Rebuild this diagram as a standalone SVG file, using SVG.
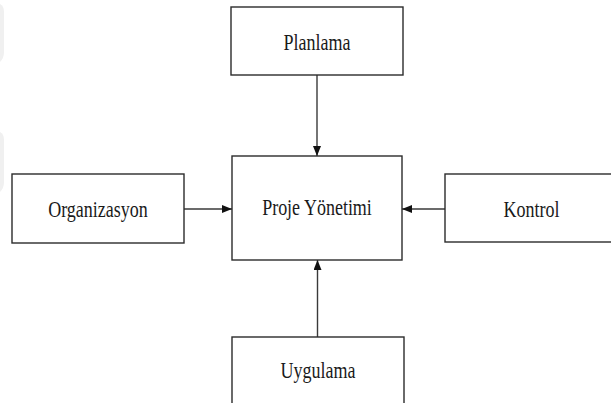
<svg xmlns="http://www.w3.org/2000/svg" width="611" height="403" viewBox="0 0 611 403">
  <style>
    .box { fill: #ffffff; stroke: #2b2b2b; stroke-width: 1.4; }
    .lbl { font-size: 18px; fill: #1a1a1a; text-anchor: middle; }
    .link { stroke: #3a3a3a; stroke-width: 1.4; fill: none; marker-end: url(#tip); }
    .ghost { fill: #f0f0f0; }
  </style>
  <defs>
    <marker id="tip" viewBox="0 0 10 8" refX="10" refY="4" markerWidth="10" markerHeight="8" markerUnits="userSpaceOnUse" orient="auto">
      <path d="M0,0 L10,4 L0,8 Z" fill="#111111"/>
    </marker>
  </defs>

  <rect width="611" height="403" fill="#ffffff"/>

  <!-- faint background marks at the left margin -->
  <path class="ghost" d="M0,4 Q4,6 4,12 L4,52 Q4,58 0,62 Z"/>
  <path class="ghost" d="M0,132 Q4,134 4,140 L4,182 Q4,188 0,192 Z"/>

  <g id="connectors">
    <line class="link" x1="317" y1="75" x2="317" y2="156"/>
    <line class="link" x1="184" y1="209" x2="232" y2="209"/>
    <line class="link" x1="445" y1="209" x2="402" y2="209"/>
    <line class="link" x1="317.5" y1="337" x2="317.5" y2="260"/>
  </g>

  <g font-family="'Liberation Serif', 'Times New Roman', serif">
    <g id="planlama">
      <rect class="box" x="231" y="7" width="172" height="68"/>
      <text class="lbl" font-family="Liberation Serif, serif" transform="translate(317,50) scale(1,1.28)">Planlama</text>
    </g>

    <g id="proje-yonetimi">
      <rect class="box" x="232" y="156" width="170" height="104"/>
      <text class="lbl" font-family="Liberation Serif, serif" transform="translate(317,215) scale(1,1.28)">Proje Yönetimi</text>
    </g>

    <g id="organizasyon">
      <rect class="box" x="12" y="174" width="172" height="69"/>
      <text class="lbl" font-family="Liberation Serif, serif" transform="translate(98,217) scale(1,1.28)">Organizasyon</text>
    </g>

    <g id="kontrol">
      <rect class="box" x="445" y="174" width="175" height="68"/>
      <text class="lbl" font-family="Liberation Serif, serif" transform="translate(531.5,217) scale(1,1.28)">Kontrol</text>
    </g>

    <g id="uygulama">
      <rect class="box" x="232" y="337" width="172" height="80"/>
      <text class="lbl" font-family="Liberation Serif, serif" transform="translate(318,378) scale(1,1.28)">Uygulama</text>
    </g>
  </g>
</svg>
